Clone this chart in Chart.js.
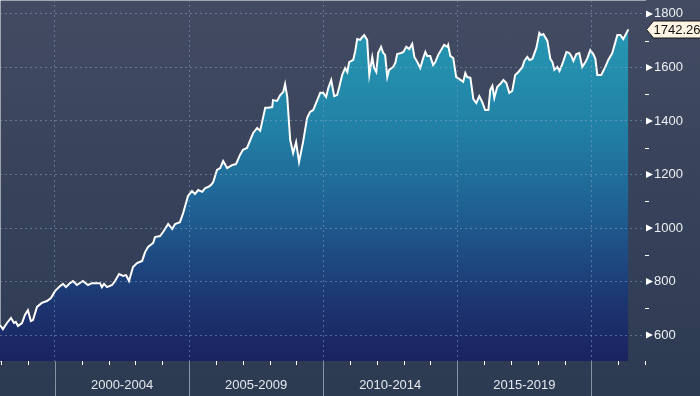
<!DOCTYPE html>
<html>
<head>
<meta charset="utf-8">
<script src="https://cdn.jsdelivr.net/npm/chart.js@4"></script>
<style>
  html, body { margin: 0; padding: 0; }
  body { width: 700px; height: 396px; overflow: hidden; }
  #wrap { width: 700px; height: 396px; background: linear-gradient(#424b62, #2c3a52); }
</style>
</head>
<body>
<div id="wrap"><canvas id="chart" width="700" height="396"></canvas></div>
<script>
const years = [1997.95,1998.06,1998.21,1998.36,1998.47,1998.54,1998.62,1998.77,1998.88,1998.99,
  1999.10,1999.18,1999.33,1999.51,1999.70,1999.85,2000.00,2000.19,2000.30,2000.41,
  2000.56,2000.67,2000.82,2001.04,2001.23,2001.38,2001.68,2001.75,2001.83,2001.94,
  2002.13,2002.24,2002.39,2002.54,2002.65,2002.76,2002.91,2003.06,2003.25,2003.36,
  2003.47,2003.66,2003.73,2003.92,2004.03,2004.22,2004.37,2004.48,2004.66,2004.78,
  2004.96,2005.11,2005.22,2005.34,2005.49,2005.60,2005.71,2005.82,2005.90,2006.04,
  2006.16,2006.27,2006.42,2006.60,2006.75,2006.90,2007.01,2007.16,2007.39,2007.54,
  2007.65,2007.84,2007.95,2008.10,2008.13,2008.28,2008.40,2008.51,2008.58,2008.66,
  2008.77,2008.88,2008.99,2009.10,2009.25,2009.40,2009.51,2009.63,2009.78,2009.89,
  2010.00,2010.11,2010.19,2010.30,2010.41,2010.52,2010.60,2010.71,2010.82,2010.90,
  2010.97,2011.12,2011.19,2011.27,2011.38,2011.46,2011.53,2011.64,2011.72,2011.83,
  2011.90,2011.98,2012.05,2012.16,2012.24,2012.31,2012.39,2012.46,2012.61,2012.69,
  2012.76,2012.91,2012.99,2013.10,2013.21,2013.32,2013.40,2013.51,2013.62,2013.73,
  2013.81,2013.88,2013.99,2014.10,2014.18,2014.29,2014.44,2014.51,2014.63,2014.66,
  2014.74,2014.85,2014.96,2015.07,2015.22,2015.30,2015.37,2015.49,2015.60,2015.71,
  2015.82,2015.93,2016.04,2016.16,2016.23,2016.31,2016.38,2016.49,2016.60,2016.72,
  2016.83,2016.94,2017.05,2017.16,2017.28,2017.43,2017.50,2017.61,2017.69,2017.80,
  2017.95,2018.06,2018.13,2018.21,2018.36,2018.47,2018.55,2018.62,2018.73,2018.81,
  2018.92,2019.07,2019.18,2019.25,2019.33,2019.44,2019.55,2019.66,2019.78,2019.85,
  2019.96,2020.07,2020.15,2020.22,2020.37,2020.52,2020.63,2020.78,2020.97,2021.08,
  2021.19,2021.38];

const values = [637,622,645,664,645,649,634,645,675,693,
  652,656,705,720,727,738,764,783,791,779,
  794,802,787,802,787,794,794,779,791,779,
  787,802,828,821,824,802,854,869,877,910,
  929,944,966,970,985,1015,996,1015,1022,1056,
  1120,1138,1127,1142,1135,1149,1153,1161,1172,1217,
  1224,1250,1224,1235,1239,1273,1292,1299,1355,1374,
  1363,1449,1449,1452,1478,1475,1497,1508,1538,1490,
  1329,1280,1321,1247,1321,1411,1434,1441,1478,1505,
  1505,1490,1523,1553,1493,1497,1527,1572,1598,1583,
  1620,1628,1658,1706,1703,1714,1721,1703,1572,1639,
  1598,1583,1654,1677,1654,1647,1564,1591,1602,1617,
  1650,1654,1658,1677,1669,1688,1639,1620,1598,1635,
  1658,1643,1643,1609,1620,1647,1673,1684,1677,1684,
  1643,1635,1564,1557,1546,1579,1564,1561,1482,1467,
  1493,1471,1441,1441,1516,1531,1486,1527,1538,1553,
  1542,1505,1512,1572,1583,1602,1624,1639,1628,1632,
  1673,1729,1721,1725,1699,1632,1620,1591,1602,1587,
  1613,1658,1654,1643,1624,1650,1654,1602,1620,1635,
  1665,1650,1632,1572,1572,1602,1628,1654,1721,1721,
  1706,1742.26];

// period boundaries and their labels (label sits in the middle of each period)
const periodStarts = [2000, 2005, 2010, 2015, 2020];
const periodLabels = ["2000-2004", "2005-2009", "2010-2014", "2015-2019"];
const minorYears = [1998, 1999, 2001, 2002, 2003, 2004, 2006, 2007, 2008, 2009, 2011, 2012, 2013, 2014, 2016, 2017, 2018, 2019, 2021, 2022];
const yTicks = [600, 800, 1000, 1200, 1400, 1600, 1800];
const yMinorTicks = [700, 900, 1100, 1300, 1500, 1700];

const gridColor = "rgba(140,165,200,0.5)";

const extras = {
  id: "extras",
  afterDraw(chart) {
    const ctx = chart.ctx;
    const x = chart.scales.x;
    const y = chart.scales.y;
    const area = chart.chartArea;
    ctx.save();

    // long separators below the x axis
    ctx.strokeStyle = "#8a93a4";
    ctx.lineWidth = 1;
    periodStarts.forEach(v => {
      const px = Math.round(x.getPixelForValue(v)) + 0.5;
      ctx.beginPath();
      ctx.moveTo(px, area.bottom);
      ctx.lineTo(px, chart.height);
      ctx.stroke();
    });

    // small white yearly ticks
    ctx.strokeStyle = "#ffffff";
    minorYears.forEach(v => {
      const px = Math.round(x.getPixelForValue(v)) + 0.5;
      ctx.beginPath();
      ctx.moveTo(px, area.bottom);
      ctx.lineTo(px, area.bottom + 4);
      ctx.stroke();
    });

    // minor ticks on the right axis
    yMinorTicks.forEach(v => {
      const py = Math.round(y.getPixelForValue(v)) + 0.5;
      ctx.beginPath();
      ctx.moveTo(area.right, py);
      ctx.lineTo(area.right + 4, py);
      ctx.stroke();
    });

    // triangles at major ticks
    ctx.fillStyle = "#ffffff";
    yTicks.forEach(v => {
      const py = y.getPixelForValue(v);
      ctx.beginPath();
      ctx.moveTo(area.right + 1, py - 3.5);
      ctx.lineTo(area.right + 8, py);
      ctx.lineTo(area.right + 1, py + 3.5);
      ctx.closePath();
      ctx.fill();
    });

    // last value tag
    const last = values[values.length - 1];
    const ly = Math.round(y.getPixelForValue(last)) + 0.5;
    const lx = area.right + 1.5;
    ctx.beginPath();
    ctx.moveTo(lx, ly);
    ctx.lineTo(lx + 7, ly - 8.5);
    ctx.lineTo(chart.width + 2, ly - 8.5);
    ctx.lineTo(chart.width + 2, ly + 8.5);
    ctx.lineTo(lx + 7, ly + 8.5);
    ctx.closePath();
    ctx.fillStyle = "#fdf4e3";
    ctx.fill();
    ctx.strokeStyle = "#1a1a1a";
    ctx.stroke();
    ctx.fillStyle = "#111111";
    ctx.font = "13px 'Liberation Sans', Arial, sans-serif";
    ctx.textBaseline = "middle";
    ctx.textAlign = "left";
    ctx.fillText(last.toFixed(2), lx + 7, ly + 0.5);

    ctx.restore();
  }
};

function areaGradient(context) {
  const chart = context.chart;
  const area = chart.chartArea;
  if (!area) return "#1f6596";
  const g = chart.ctx.createLinearGradient(0, area.top, 0, area.bottom);
  g.addColorStop(0, "#27a2ba");
  g.addColorStop(0.12, "#2594b0");
  g.addColorStop(0.33, "#2283a7");
  g.addColorStop(0.55, "#1f6596");
  g.addColorStop(0.70, "#1e4c83");
  g.addColorStop(0.84, "#1c3570");
  g.addColorStop(1, "#1b2360");
  return g;
}

new Chart(document.getElementById("chart"), {
  type: "line",
  data: {
    datasets: [{
      data: years.map((yr, i) => ({ x: yr, y: values[i] })),
      borderColor: "#ffffff",
      borderWidth: 2,
      pointRadius: 0,
      tension: 0,
      fill: "start",
      backgroundColor: areaGradient
    }]
  },
  options: {
    responsive: false,
    animation: false,
    layout: { padding: 0 },
    plugins: {
      legend: { display: false },
      tooltip: { enabled: false }
    },
    scales: {
      x: {
        type: "linear",
        min: 1997.95,
        max: 2022.0,
        afterFit: s => { s.height = 35; s.paddingLeft = 0; s.paddingRight = 0; },
        afterBuildTicks: s => {
          const t = [];
          periodStarts.forEach((v, i) => {
            t.push({ value: v });
            if (i < periodLabels.length) t.push({ value: v + 2.5 });
          });
          s.ticks = t;
        },
        grid: {
          z: 1,
          color: c => (c.tick && c.tick.value % 5 === 0) ? gridColor : "rgba(0,0,0,0)",
          lineWidth: 1,
          drawTicks: true,
          tickLength: 4,
          tickColor: "rgba(0,0,0,0)"
        },
        border: { display: true, color: "#ffffff", width: 1, dash: [2, 3] },
        ticks: {
          autoSkip: false,
          maxRotation: 0,
          padding: 13,
          color: "#e6e8ec",
          font: { family: "'Liberation Sans', Arial, sans-serif", size: 13 },
          callback: v => {
            const i = periodStarts.indexOf(v - 2.5);
            return i >= 0 ? periodLabels[i] : "";
          }
        }
      },
      y: {
        position: "right",
        min: 503,
        max: 1852,
        afterFit: s => { s.width = 55; s.paddingTop = 0; s.paddingBottom = 0; },
        afterBuildTicks: s => { s.ticks = yTicks.map(v => ({ value: v })); },
        grid: {
          z: 1,
          color: gridColor,
          lineWidth: 1,
          tickLength: 6,
          tickColor: "rgba(0,0,0,0)"
        },
        border: { display: true, color: "#ffffff", width: 1, dash: [2, 3] },
        ticks: {
          padding: 3,
          color: "#eef0f3",
          font: { family: "'Liberation Sans', Arial, sans-serif", size: 13 },
          callback: v => String(v)
        }
      }
    }
  },
  plugins: [extras]
});
</script>
</body>
</html>
